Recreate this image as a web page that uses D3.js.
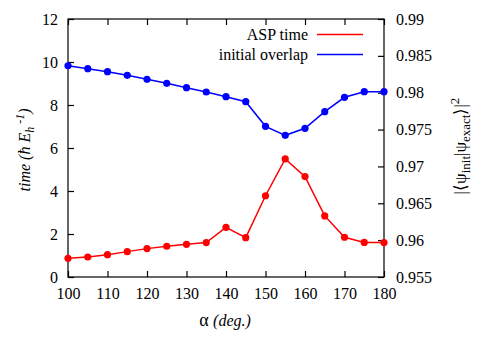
<!DOCTYPE html>
<html><head><meta charset="utf-8">
<script src="https://cdn.jsdelivr.net/npm/d3@7"></script>
</head><body style="margin:0"><svg id="c" width="491" height="343"></svg>
<script>
const angles = [100,105,110,115,120,125,130,135,140,145,150,155,160,165,170,175,180];
const aspTime = [0.87,0.93,1.04,1.18,1.32,1.43,1.52,1.60,2.31,1.83,3.78,5.49,4.67,2.84,1.85,1.61,1.60];
const overlap = [0.98366,0.98326,0.98285,0.98236,0.98182,0.98127,0.98068,0.9801,0.97946,0.97878,0.97544,0.97422,0.97517,0.97743,0.97938,0.98014,0.98014];
const xTicks = [100,110,120,130,140,150,160,170,180];
const yTicks = [0,2,4,6,8,10,12];
const y2Ticks = [0.955,0.96,0.965,0.97,0.975,0.98,0.985,0.99];
const seriesNames = ["ASP time","initial overlap"];
const colors = ["#ff0000","#0000ff"];

const FF="Liberation Serif";
const FS=16;
const L=68,R=384,T=19,B=277;
const svg=d3.select("#c");
const x=d3.scaleLinear().domain([100,180]).range([L,R]);
const y=d3.scaleLinear().domain([0,12]).range([B,T]);
const y2=d3.scaleLinear().domain([0.955,0.99]).range([B,T]);

svg.append("rect").attr("x",L).attr("y",T).attr("width",R-L).attr("height",B-T).attr("fill","none").attr("stroke","#000").attr("stroke-width",1.2);

const tl=6;
const gx=svg.append("g").attr("transform",`translate(0,${B})`).call(d3.axisBottom(x).tickValues(xTicks).tickSize(-tl).tickPadding(8).tickFormat(d3.format("d")));
const gxt=svg.append("g").attr("transform",`translate(0,${T})`).call(d3.axisTop(x).tickValues(xTicks).tickSize(-tl).tickFormat(""));
const gy=svg.append("g").attr("transform",`translate(${L},0)`).call(d3.axisLeft(y).tickValues(yTicks).tickSize(-tl).tickPadding(10).tickFormat(d3.format("d")));
const gy2=svg.append("g").attr("transform",`translate(${R},0)`).call(d3.axisRight(y2).tickValues(y2Ticks).tickSize(-tl).tickPadding(12).tickFormat(d=>String(+d.toFixed(3))));
[gx,gxt,gy,gy2].forEach(g=>{g.attr("font-family",null).attr("font-size",null);g.select(".domain").remove();g.selectAll(".tick line").attr("stroke","#000").attr("stroke-width",1.2);g.selectAll("text").attr("fill","#000").attr("font-family",FF).attr("font-size",FS);});
gx.selectAll(".tick text").attr("dy","0.9em");

const line1=d3.line().x((d,i)=>x(angles[i])).y(d=>y(d));
const line2=d3.line().x((d,i)=>x(angles[i])).y(d=>y2(d));
svg.append("path").attr("d",line1(aspTime)).attr("fill","none").attr("stroke",colors[0]).attr("stroke-width",1.5);
svg.append("path").attr("d",line2(overlap)).attr("fill","none").attr("stroke",colors[1]).attr("stroke-width",1.5);
svg.append("g").selectAll("circle").data(aspTime).join("circle").attr("cx",(d,i)=>x(angles[i])).attr("cy",d=>y(d)).attr("r",3.6).attr("fill",colors[0]);
svg.append("g").selectAll("circle").data(overlap).join("circle").attr("cx",(d,i)=>x(angles[i])).attr("cy",d=>y2(d)).attr("r",3.6).attr("fill",colors[1]);

const legY=[34.5,54.5];
seriesNames.forEach((n,i)=>{
  svg.append("text").attr("x",308).attr("y",legY[i]).attr("dy","0.33em").attr("text-anchor","end").attr("font-family",FF).attr("font-size",FS).text(n);
  svg.append("line").attr("x1",317).attr("x2",363).attr("y1",legY[i]).attr("y2",legY[i]).attr("stroke",colors[i]).attr("stroke-width",1.5);
});

const xt=svg.append("text").attr("x",225).attr("y",326).attr("text-anchor","middle").attr("font-family",FF).attr("font-size",18);
xt.append("tspan").text("α ");
xt.append("tspan").attr("font-style","italic").attr("font-size",16).text("(deg.)");

const yt=svg.append("text").attr("transform","translate(30,150) rotate(-90)").attr("text-anchor","middle").attr("font-family",FF).attr("font-size",FS).attr("font-style","italic");
yt.append("tspan").text("time (ħ E");
yt.append("tspan").attr("dy",4).attr("font-size",12).text("h");
yt.append("tspan").attr("dy",-10).attr("font-size",12).text(" -1");
yt.append("tspan").attr("dy",6).text(")");

const y2t=svg.append("text").attr("transform","translate(466,146) rotate(-90)").attr("text-anchor","middle").attr("font-family",FF).attr("font-size",17);
y2t.append("tspan").text("|⟨ψ");
y2t.append("tspan").attr("dy",4).attr("font-size",13).text("init");
y2t.append("tspan").attr("dy",-4).text("|ψ");
y2t.append("tspan").attr("dy",4).attr("font-size",13).text("exact");
y2t.append("tspan").attr("dy",-4).text("⟩|");
y2t.append("tspan").attr("dy",-7).attr("font-size",13).text("2");
</script></body></html>
